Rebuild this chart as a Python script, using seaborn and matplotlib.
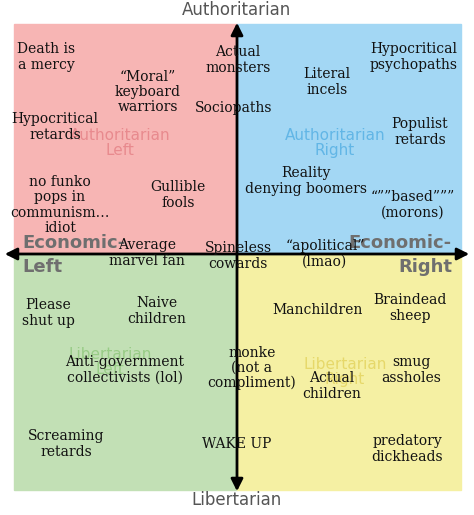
import matplotlib.pyplot as plt
import matplotlib.patches as mpatches
import seaborn as sns

# quadrant labels and colours
quad_names = ["Authoritarian\nLeft", "Authoritarian\nRight", "Libertarian\nLeft", "Libertarian\nRight"]
quad_fill = ["#f7b5b4", "#a3d7f4", "#c2e0b5", "#f5f0a3"]
quad_text = ["#e88a8e", "#62b6e6", "#98cc86", "#e6d86a"]

# annotation texts and their pixel positions on the compass
labels = [
    "Death is\na mercy", "Actual\nmonsters", "Hypocritical\npsychopaths",
    "\u201cMoral\u201d\nkeyboard\nwarriors", "Literal\nincels", "Sociopaths",
    "Hypocritical\nretards", "Populist\nretards",
    "no funko\npops in\ncommunism\u2026\nidiot", "Gullible\nfools",
    "Reality\ndenying boomers", "\u201c\u201d\u201dbased\u201d\u201d\u201d\n(morons)",
    "Average\nmarvel fan", "Spineless\ncowards", "\u201capolitical\u201d\n(lmao)",
    "Please\nshut up", "Naive\nchildren", "Manchildren", "Braindead\nsheep",
    "Anti-government\ncollectivists (lol)", "monke\n(not a\ncompliment)",
    "Actual\nchildren", "smug\nassholes",
    "Screaming\nretards", "WAKE UP", "predatory\ndickheads",
]
label_x = [46, 238, 414, 148, 327, 234, 55, 420, 60, 178, 306, 413,
           147, 238, 325, 48, 157, 318, 410, 125, 252, 332, 411, 66, 237, 407]
label_y = [57, 60, 57, 92, 82, 108, 127, 132, 205, 195, 181, 205,
           253, 256, 254, 313, 311, 310, 308, 370, 368, 386, 370, 444, 444, 449]

CX, CY = 237, 254
LEFT, RIGHT, TOP, BOTTOM = 14, 461, 24, 490

sns.set_style("white")
fig = plt.figure(figsize=(4.74, 5.15), dpi=100)
ax = fig.add_axes([0, 0, 1, 1])
ax.set_xlim(0, 474)
ax.set_ylim(515, 0)
ax.axis("off")

# quadrant rectangles
boxes = [(LEFT, TOP, CX - LEFT, CY - TOP), (CX, TOP, RIGHT - CX, CY - TOP),
         (LEFT, CY, CX - LEFT, BOTTOM - CY), (CX, CY, RIGHT - CX, BOTTOM - CY)]
for (x0, y0, w, h), c in zip(boxes, quad_fill):
    ax.add_patch(mpatches.Rectangle((x0, y0), w, h, color=c, zorder=0))

quad_pos = [(120, 143), (335, 143), (110, 362), (345, 372)]
for (qx, qy), name, c in zip(quad_pos, quad_names, quad_text):
    ax.text(qx, qy, name, ha="center", va="center", fontsize=11, color=c,
            family="DejaVu Sans", linespacing=1.0, zorder=1)

# axes arrows
arrow = dict(arrowstyle="<|-|>", color="black", lw=2, mutation_scale=18)
ax.annotate("", xy=(2, CY), xytext=(472, CY), arrowprops=arrow, zorder=2)
ax.annotate("", xy=(CX, 20), xytext=(CX, 494), arrowprops=arrow, zorder=2)

ax.text(CX, 10, "Authoritarian", ha="center", va="center", fontsize=12, color="#555555")
ax.text(CX, 500, "Libertarian", ha="center", va="center", fontsize=12, color="#555555")
ax.text(22, 243, "Economic-", ha="left", va="center", fontsize=13, color="#6f6f6f", weight="bold")
ax.text(22, 267, "Left", ha="left", va="center", fontsize=13, color="#6f6f6f", weight="bold")
ax.text(452, 243, "Economic-", ha="right", va="center", fontsize=13, color="#6f6f6f", weight="bold")
ax.text(452, 267, "Right", ha="right", va="center", fontsize=13, color="#6f6f6f", weight="bold")

for t, x, y in zip(labels, label_x, label_y):
    ax.text(x, y, t, ha="center", va="center", fontsize=10, family="DejaVu Serif",
            color="#111111", linespacing=1.1, zorder=3)

fig.savefig("out.png", dpi=100)
